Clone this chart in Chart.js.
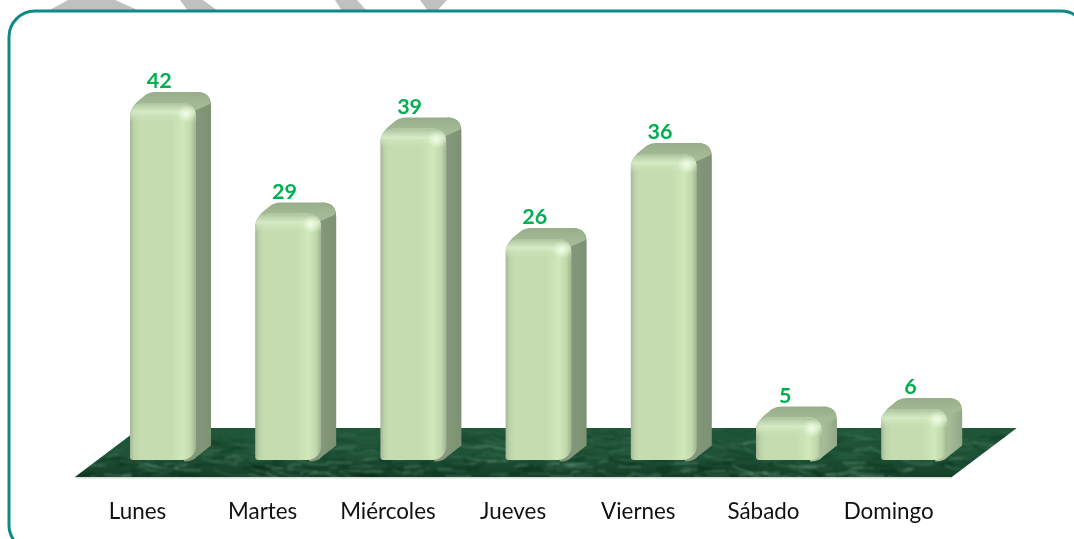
<!DOCTYPE html>
<html lang="es">
<head>
<meta charset="utf-8">
<style>
html,body{margin:0;padding:0;background:#fff;}
#wrap{position:relative;width:1074px;height:539px;overflow:hidden;}
canvas{display:block;}
</style>
<script src="https://cdn.jsdelivr.net/npm/chart.js@4"></script>
</head>
<body>
<div id="wrap"><canvas id="c" width="1074" height="539"></canvas></div>
<script>
const categories = ["Lunes","Martes","Miércoles","Jueves","Viernes","Sábado","Domingo"];
const seriesValues = [42,29,39,26,36,5,6];

const DEPTH_X = 15, DEPTH_Y = 11;
const FONT = 'Lato, "Open Sans", sans-serif';

function pathFront(ctx,l,t,r,b){
  const rt = Math.min(14,(b-t)/2.4), rb = Math.min(14,(b-t)/3);
  ctx.beginPath();
  ctx.moveTo(l,t+rt);
  ctx.quadraticCurveTo(l,t,l+rt,t);
  ctx.lineTo(r-rt,t);
  ctx.quadraticCurveTo(r,t,r,t+rt);
  ctx.lineTo(r,b-rb);
  ctx.quadraticCurveTo(r,b,r-rb,b);
  ctx.lineTo(l+3,b);
  ctx.quadraticCurveTo(l,b,l,b-3);
  ctx.closePath();
}

const scene = {
  id:'scene',
  beforeDraw(chart){
    const c = chart.ctx;
    c.save();
    c.fillStyle = '#fff';
    c.fillRect(0,0,chart.width,chart.height);
    // watermark remnants above frame
    c.fillStyle = '#c0c0c0';
    [[[68,0],[115,0],[140,11],[48,11]],[[180,0],[203,0],[218,11],[188,11]],
     [[335,0],[357,0],[367,11],[342,11]],[[420,0],[447,0],[437,11],[428,11]]].forEach(p=>{
      c.beginPath();p.forEach((q,i)=>i?c.lineTo(q[0],q[1]):c.moveTo(q[0],q[1]));c.closePath();c.fill();
    });
    // frame
    c.strokeStyle = '#0e8a85';
    c.lineWidth = 3;
    c.beginPath();
    c.roundRect(9,11,1078,540,26);
    c.stroke();
    c.restore();
  },
  beforeDatasetsDraw(chart){
    const c = chart.ctx, x = chart.scales.x, y = chart.scales.y;
    const base = y.getPixelForValue(0);
    const L = x.left - 25.5, R = x.right - 25, F = base + 17, B = base - 32, D = 65;
    c.save();
    // floor lip
    c.fillStyle = '#d9dedb';
    c.fillRect(L,F,R-L,1.5);
    c.beginPath();
    c.moveTo(L,F);c.lineTo(R,F);c.lineTo(R+D,B);c.lineTo(L+D,B);c.closePath();
    c.clip();
    const g = c.createLinearGradient(0,B,0,F);
    g.addColorStop(0,'#1f5538');g.addColorStop(.55,'#1e5236');g.addColorStop(1,'#143f27');
    c.fillStyle = g;
    c.fillRect(L,B,R-L+D,F-B);
    // marble veins (decorative texture, not data)
    c.filter = 'blur(0.8px)';
    for(let i=0;i<520;i++){
      const a = Math.abs(Math.sin(i*12.9898)*43758.5453)%1;
      const b = Math.abs(Math.sin(i*78.233)*24634.6345)%1;
      const d = Math.abs(Math.sin(i*37.719)*15731.743)%1;
      const px = L + a*(R-L+D), py = B + b*(F-B);
      const len = 8+d*30, tilt = (d-.5)*.7;
      c.strokeStyle = i%3===0 ? 'rgba(140,185,155,.30)' : (i%3===1 ? 'rgba(6,36,20,.40)' : 'rgba(80,135,102,.32)');
      c.lineWidth = .6+b*1.8;
      c.beginPath();
      c.moveTo(px,py);
      c.quadraticCurveTo(px+len*.5,py+tilt*len+2*(a-.5),px+len,py+tilt*len*.6);
      c.stroke();
    }
    c.filter = 'none';
    c.restore();

    // 3D side + top faces of every bar
    chart.getDatasetMeta(0).data.forEach(bar=>{
      const l = bar.x-bar.width/2, r = bar.x+bar.width/2, t = bar.y, b = bar.base+1.5;
      const tall = Math.min(1,(b-t)/120);
      c.save();
      // silhouette = side colour
      const sg = c.createLinearGradient(r,0,r+DEPTH_X,0);
      const sc = tall>.5 ? ['#84977a','#7d9173'] : ['#a8bd9a','#93a886'];
      sg.addColorStop(0,sc[0]);sg.addColorStop(1,sc[1]);
      c.fillStyle = sg;
      c.beginPath();
      c.moveTo(r-8,t);
      c.lineTo(r+DEPTH_X-14,t-DEPTH_Y);
      c.quadraticCurveTo(r+DEPTH_X,t-DEPTH_Y,r+DEPTH_X,t-DEPTH_Y+14);
      c.lineTo(r+DEPTH_X,b-16);
      c.lineTo(r+1,b-5);
      c.quadraticCurveTo(r-3,b,r-12,b);
      c.closePath();
      c.fill();
      // top face
      const tg = c.createLinearGradient(0,t-DEPTH_Y,0,t+2);
      tg.addColorStop(0,'#98ad8a');tg.addColorStop(1,'#a4ba96');
      c.fillStyle = tg;
      c.beginPath();
      c.moveTo(l,t+12);
      c.bezierCurveTo(l+1,t+3,l+8,t-2,l+13,t-6);
      c.quadraticCurveTo(l+18,t-DEPTH_Y,l+26,t-DEPTH_Y);
      c.lineTo(r+DEPTH_X-14,t-DEPTH_Y);
      c.bezierCurveTo(r+DEPTH_X-5,t-DEPTH_Y,r+DEPTH_X,t-DEPTH_Y+5,r+DEPTH_X-1,t-DEPTH_Y+12);
      c.lineTo(r-4,t+9);
      c.lineTo(r-10,t+3);
      c.closePath();
      c.fill();
      c.restore();
    });
  },
  afterDatasetsDraw(chart){
    const c = chart.ctx, ds = chart.data.datasets[0];
    chart.getDatasetMeta(0).data.forEach((bar,i)=>{
      const l = bar.x-bar.width/2, r = bar.x+bar.width/2, t = bar.y, b = bar.base+1.5;
      c.save();
      pathFront(c,l,t,r,b);
      c.clip();
      // top bevel
      const tb = c.createLinearGradient(0,t,0,t+20);
      tb.addColorStop(0,'rgba(172,194,158,1)');
      tb.addColorStop(.45,'rgba(214,236,198,.9)');
      tb.addColorStop(1,'rgba(197,222,176,0)');
      c.fillStyle = tb;
      c.fillRect(l,t,r-l,20);
      // corner glint
      const gl = c.createRadialGradient(r-10,t+11,0,r-10,t+11,9);
      gl.addColorStop(0,'rgba(244,255,234,.9)');
      gl.addColorStop(1,'rgba(244,255,234,0)');
      c.fillStyle = gl;
      c.fillRect(r-20,t,20,22);
      c.restore();
      // value label
      c.save();
      c.fillStyle = '#00B050';
      c.font = 'bold 21.5px '+FONT;
      c.textAlign = 'center';
      c.textBaseline = 'alphabetic';
      c.fillText(String(ds.data[i]), bar.x-3.8, t-15);
      c.restore();
    });
  }
};

new Chart(document.getElementById('c'),{
  type:'bar',
  data:{
    labels:categories,
    datasets:[{
      data:seriesValues,
      barPercentage:66/125.2,
      categoryPercentage:1,
      borderSkipped:false,
      borderWidth:0,
      borderRadius:ctx=>{
        const h = ctx.parsed && ctx.parsed.y<10 ? 12 : 14;
        return {topLeft:h,topRight:h,bottomLeft:3,bottomRight:h};
      },
      backgroundColor:ctx=>{
        const sc = ctx.chart.scales.x;
        const cx = sc && ctx.dataIndex!==undefined ? sc.getPixelForValue(ctx.dataIndex) : NaN;
        if(!Number.isFinite(cx)) return '#c5ddb0';
        const g = ctx.chart.ctx.createLinearGradient(cx-33,0,cx+33,0);
        g.addColorStop(0,'#a3b699');
        g.addColorStop(.06,'#bcd3a8');
        g.addColorStop(.14,'#c4dcaf');
        g.addColorStop(.62,'#c4dcaf');
        g.addColorStop(.8,'#cfe9bb');
        g.addColorStop(.92,'#c0d8ab');
        g.addColorStop(1,'#9fb390');
        return g;
      }
    }]
  },
  options:{
    responsive:false,
    animation:false,
    layout:{padding:{left:100.4,right:97.2,top:35,bottom:0}},
    plugins:{legend:{display:false},title:{display:false},tooltip:{enabled:false}},
    scales:{
      x:{
        grid:{display:false,drawTicks:false},
        border:{display:false},
        afterFit(s){s.height=79;},
        ticks:{
          color:'#111',
          font:{family:FONT,size:22.4},
          labelOffset:-25.5,
          padding:38,
          maxRotation:0,
          autoSkip:false
        }
      },
      y:{
        display:false,
        min:0,
        max:50,
        afterFit(s){s.width=0;}
      }
    }
  },
  plugins:[scene]
});
</script>
</body>
</html>
